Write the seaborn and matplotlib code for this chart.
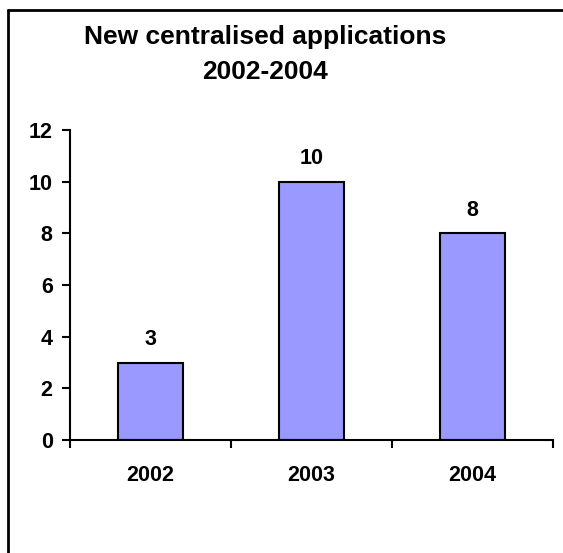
import matplotlib
matplotlib.use("Agg")
import matplotlib.pyplot as plt
import seaborn as sns
import pandas as pd
from matplotlib.lines import Line2D

# data
years = ["2002", "2003", "2004"]
applications = [3, 10, 8]
y_ticks = [0, 2, 4, 6, 8, 10, 12]

df = pd.DataFrame({"year": years, "applications": applications})

sns.set_style("white")
plt.rcParams['font.family'] = ['Liberation Sans', 'DejaVu Sans']
plt.rcParams['font.weight'] = 'bold'
plt.rcParams['text.color'] = 'black'
plt.rcParams['xtick.color'] = 'black'
plt.rcParams['ytick.color'] = 'black'

fig = plt.figure(figsize=(5.63, 5.53), dpi=100)
ax = fig.add_axes([70 / 563, 1 - 440 / 553, 483 / 563, 310 / 553])

sns.barplot(data=df, x="year", y="applications", color="#9999FF", saturation=1,
            width=0.4, edgecolor="black", linewidth=1.5, ax=ax)

ax.bar_label(ax.containers[0], fmt="%d", padding=9, fontsize=15.5, fontweight="bold", color="black")

ax.set_xlim(-0.5, 2.5)
ax.set_ylim(0, 12)
ax.set_yticks(y_ticks)
ax.set_yticklabels([str(t) for t in y_ticks], fontsize=15.5, fontweight="bold")

# category labels sit between the tick marks
ax.set_xticks([-0.5, 0.5, 1.5, 2.5])
ax.set_xticklabels([])
ax.set_xticks(range(len(years)), minor=True)
ax.set_xticklabels(years, minor=True, fontsize=15.5, fontweight="bold")
ax.tick_params(axis="x", which="major", direction="out", length=6, width=1.5, color="black", bottom=True)
ax.tick_params(axis="x", which="minor", length=0, pad=18)
ax.tick_params(axis="y", direction="out", length=6, width=1.5, color="black", left=True, pad=6.5)

ax.set_xlabel("")
ax.set_ylabel("")
for s in ["top", "right"]:
    ax.spines[s].set_visible(False)
for s in ["left", "bottom"]:
    ax.spines[s].set_color("black")
    ax.spines[s].set_linewidth(1.5)

fig.text(265 / 563, 1 - 37 / 553, "New centralised applications", ha="center", va="center",
         fontsize=19, fontweight="bold")
fig.text(265 / 563, 1 - 72 / 553, "2002-2004", ha="center", va="center",
         fontsize=19, fontweight="bold")

# chart frame (only left and top edges visible)
fig.add_artist(Line2D([8 / 563, 8 / 563], [0, 1 - 10 / 553], color="black", linewidth=2))
fig.add_artist(Line2D([8 / 563, 1], [1 - 10 / 553, 1 - 10 / 553], color="black", linewidth=2))

fig.savefig("out.png", dpi=100)
